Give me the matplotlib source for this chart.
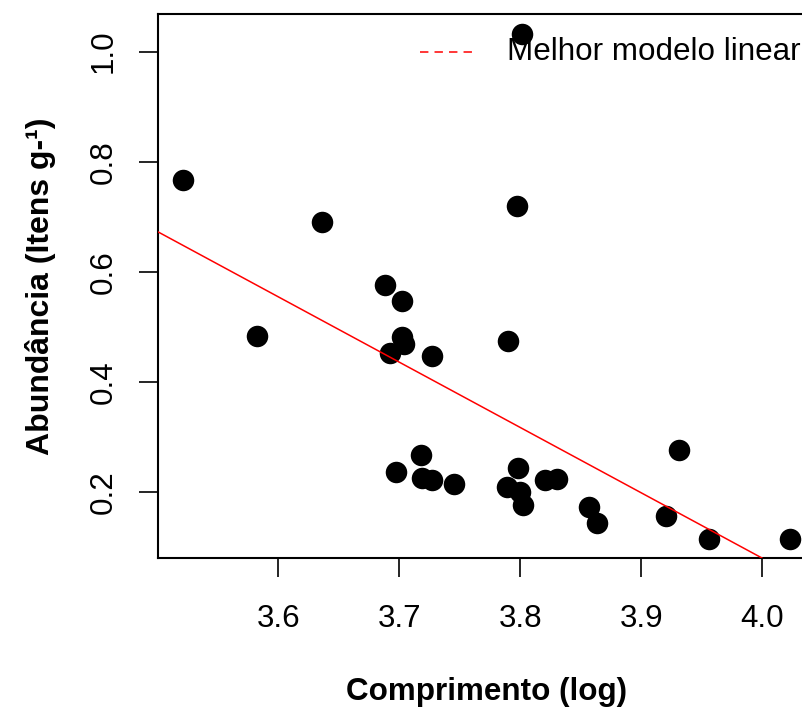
import matplotlib
matplotlib.use("Agg")
import matplotlib.pyplot as plt
from matplotlib.lines import Line2D

plt.rcParams['font.family'] = ['Liberation Sans', 'DejaVu Sans']

# comprimento (log) vs abundancia
comprimento = [3.521, 3.582, 3.636, 3.688, 3.702, 3.702, 3.704, 3.692, 3.727,
               3.718, 3.697, 3.719, 3.727, 3.745, 3.798, 3.789, 3.800, 3.802,
               3.820, 3.830, 3.857, 3.863, 3.797, 3.790, 3.801, 3.920, 3.931,
               3.956, 4.023]
abundancia = [0.767, 0.483, 0.690, 0.576, 0.547, 0.481, 0.469, 0.452, 0.447,
              0.267, 0.236, 0.225, 0.221, 0.214, 0.244, 0.209, 0.200, 0.176,
              0.221, 0.224, 0.172, 0.143, 0.720, 0.474, 1.032, 0.155, 0.275,
              0.114, 0.114]

# best linear model
intercept = 4.831
slope = -1.188

xticks = [3.6, 3.7, 3.8, 3.9, 4.0]
yticks = [0.2, 0.4, 0.6, 0.8, 1.0]

fig = plt.figure(figsize=(8.03, 7.11), dpi=100)
ax = fig.add_axes([158/803, 1-558/711, (814.5-158)/803, (558-14)/711])

ax.scatter(comprimento, abundancia, s=240, color='black', zorder=2, linewidths=0)
ax.axline((0, intercept), slope=slope, color='red', lw=1.1, zorder=3)

ax.set_xlim(3.5005, 4.043)
ax.set_ylim(0.0795, 1.0685)

ax.set_xticks(xticks)
ax.set_xticklabels([f"{v:.1f}" for v in xticks])
ax.set_yticks(yticks)
ax.set_yticklabels([f"{v:.1f}" for v in yticks])

for s in ['left', 'bottom', 'top']:
    ax.spines[s].set_linewidth(1.5)
ax.spines['right'].set_visible(False)

ax.tick_params(axis='both', direction='out', length=14, width=1.2, labelsize=22.6)
ax.tick_params(axis='x', pad=19)
ax.tick_params(axis='y', pad=14)
for lab in ax.get_yticklabels():
    lab.set_rotation(90)
    lab.set_va('center')

ax.set_xlabel("Comprimento (log)", fontsize=22.6, fontweight='bold', labelpad=31)
ax.set_ylabel("Abundância (Itens g-¹)", fontsize=23, fontweight='bold', labelpad=24)

# legend without box, top right
leg_line = Line2D([420/803, 475/803], [1-52/711, 1-52/711], transform=fig.transFigure,
                  color='red', lw=1.1, ls=(0, (5.5, 4)))
fig.lines.append(leg_line)
fig.text(507/803, 1-52/711, "Melhor modelo linear", fontsize=22.6, va='center', ha='left', zorder=5)

fig.savefig("out.png", dpi=100)
